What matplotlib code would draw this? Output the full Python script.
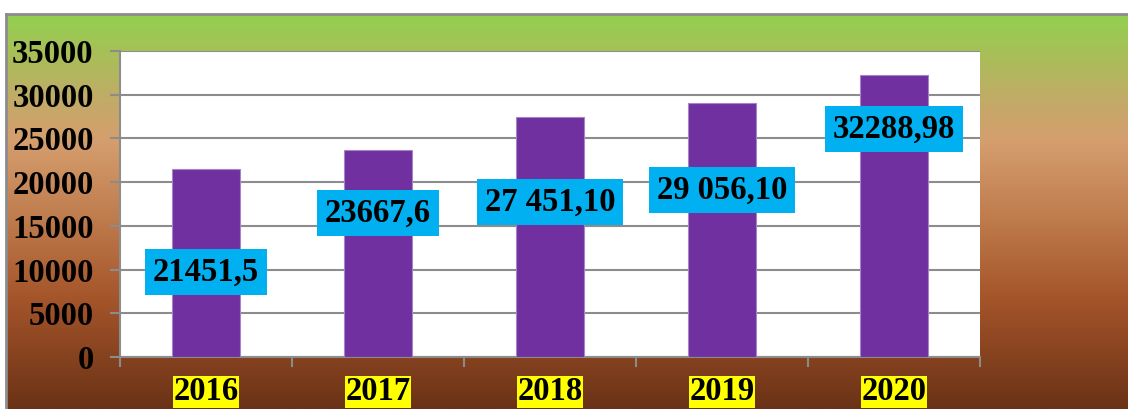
#!/usr/bin/env python3
# Bar chart with gradient background, 2016-2020

import numpy as np
import matplotlib.pyplot as plt
from matplotlib.colors import LinearSegmentedColormap

# Data
years = ['2016', '2017', '2018', '2019', '2020']
values = [21451.5, 23667.6, 27451.10, 29056.10, 32288.98]
value_labels = ['21451,5', '23667,6', '27 451,10', '29 056,10', '32288,98']
# where each blue label sits (data units, set by hand in the original)
label_y = [9720, 16470, 17730, 19100, 26080]

plt.rcParams['font.family'] = ['Liberation Serif', 'DejaVu Serif']
plt.rcParams['font.weight'] = 'bold'

fig = plt.figure(figsize=(11.28, 4.09), dpi=100)
fig.patch.set_facecolor('white')

# =============================================================
# Background gradient (green -> tan -> brown)
bg = fig.add_axes([6/1128, 0, 1 - 6/1128, 395/409])
cmap = LinearSegmentedColormap.from_list('bg', [
    (0.0, '#92D050'),
    (0.10, '#A8BF58'),
    (0.22, '#C3AA68'),
    (0.32, '#D59E6E'),
    (0.50, '#C17F50'),
    (0.72, '#A5552A'),
    (1.0, '#6A3216')])
grad = np.linspace(0, 1, 256).reshape(-1, 1)
bg.imshow(grad, aspect='auto', cmap=cmap, extent=[0, 1, 0, 1])
bg.set_xticks([])
bg.set_yticks([])
for s in ['right', 'bottom']:
  bg.spines[s].set_visible(False)
for s in ['top', 'left']:
  bg.spines[s].set_color('#8C8C8C')
  bg.spines[s].set_linewidth(2)

# =============================================================
# Plot area
ax = fig.add_axes([120/1128, 52/409, 860/1128, 306/409])
ax.set_facecolor('white')
x = np.arange(len(years))
ax.bar(x, values, width=0.4, color='#7030A0', edgecolor='#A486C8',
       linewidth=0.8, zorder=3)

ax.set_ylim(0, 35000)
ax.set_xlim(-0.5, len(years) - 0.5)
ax.set_yticks(np.arange(0, 35001, 5000))
ax.yaxis.grid(True, color='#8C8C8C', linewidth=1.5, zorder=0)
ax.set_axisbelow(True)

for s in ['top', 'right']:
  ax.spines[s].set_visible(False)
for s in ['left', 'bottom']:
  ax.spines[s].set_color('#8C8C8C')
  ax.spines[s].set_linewidth(1.5)

ax.tick_params(axis='y', length=7, width=1.5, color='#8C8C8C', pad=12,
               labelsize=23.5)
for t in ax.get_yticklabels():
  t.set_fontweight('bold')

# category labels at centres, tick marks at boundaries
ax.set_xticks(x)
ax.set_xticklabels(years)
ax.set_xticks(np.arange(-0.5, len(years), 1.0), minor=True)
ax.tick_params(axis='x', which='major', length=0, pad=14, labelsize=23.5)
ax.tick_params(axis='x', which='minor', length=7, width=1.5, color='#8C8C8C')
for t in ax.get_xticklabels():
  t.set_fontweight('bold')
  t.set_bbox(dict(facecolor='#FFFF00', edgecolor='none', pad=0.5))

# blue value labels
for xi, ly, lab in zip(x, label_y, value_labels):
  ax.text(xi, ly, lab, ha='center', va='center', fontsize=23.5,
          fontweight='bold', color='black', zorder=5,
          bbox=dict(facecolor='#00B0F0', edgecolor='none', pad=5.5))

plt.savefig('out.png', dpi=100)
